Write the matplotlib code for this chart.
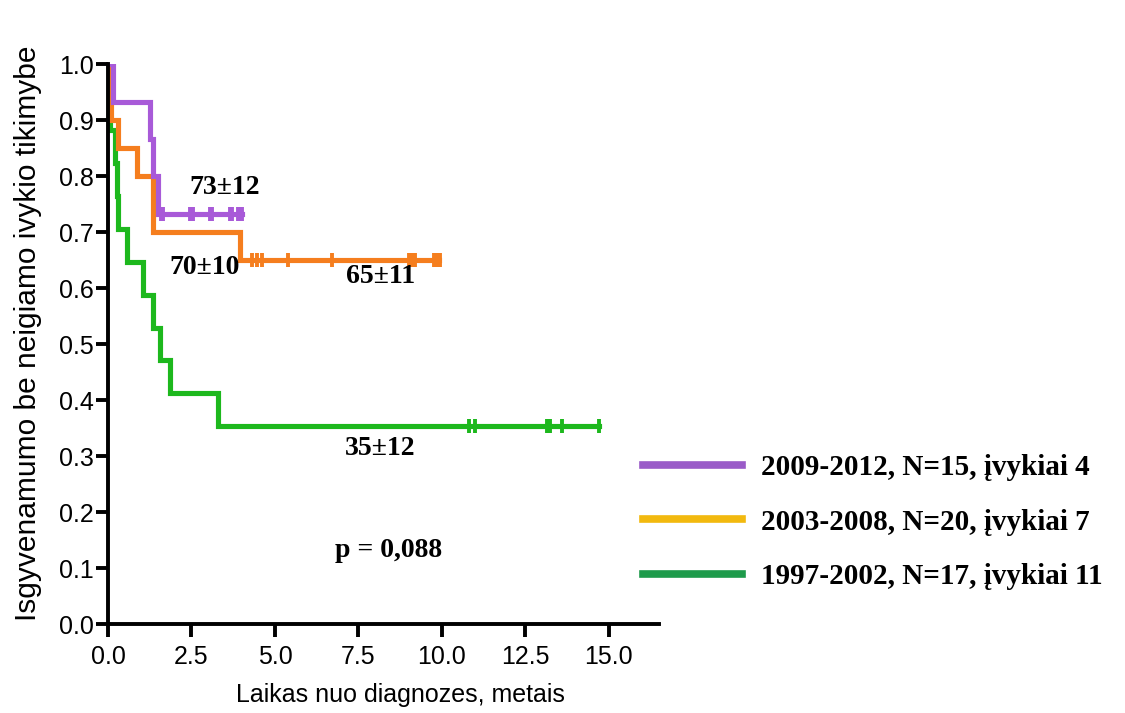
import numpy as np
import matplotlib
matplotlib.use("Agg")
import matplotlib.pyplot as plt
from matplotlib.lines import Line2D
from matplotlib.ticker import FormatStrFormatter

# Kaplan-Meier steps (time in years, survival)
t_0912 = [0, 0.15, 1.25, 1.35, 1.5, 4.0]
s_0912 = [1.0, 0.933, 0.867, 0.800, 0.733, 0.733]
c_0912 = [1.6, 1.65, 2.45, 2.55, 3.05, 3.1, 3.65, 3.7, 3.9, 3.95, 4.0]

t_0308 = [0, 0.02, 0.1, 0.3, 0.87, 1.35, 3.95, 9.9]
s_0308 = [1.0, 0.95, 0.90, 0.85, 0.80, 0.70, 0.65, 0.65]
c_0308 = [4.3, 4.45, 4.6, 5.4, 6.7, 9.0, 9.1, 9.2, 9.75, 9.8, 9.85, 9.9, 9.95]

t_9702 = [0, 0.02, 0.05, 0.2, 0.28, 0.3, 0.57, 1.05, 1.35, 1.55, 1.85, 3.3, 14.7]
s_9702 = [1.0, 0.941, 0.882, 0.824, 0.765, 0.706, 0.647, 0.588, 0.529, 0.471, 0.412, 0.353, 0.353]
c_9702 = [10.8, 11.0, 13.15, 13.25, 13.6, 14.7]

labels = ["2009-2012, N=15, įvykiai 4",
          "2003-2008, N=20, įvykiai 7",
          "1997-2002, N=17, įvykiai 11"]
line_colors = ["#A85AD8", "#F57E1E", "#1DB81D"]
legend_colors = ["#9A5BC8", "#F2B90F", "#1E9B4B"]

# estimates written on the chart: text, x, y
notes = [("73±12", 3.5, 0.78), ("70±10", 2.9, 0.636),
         ("65±11", 8.15, 0.62), ("35±12", 8.15, 0.314), ("p = 0,088", 8.4, 0.132)]

fig = plt.figure(figsize=(11.25, 7.13), dpi=100)
ax = fig.add_axes([0.096, 0.1248, 0.4898, 0.7854])

series = [(t_0912, s_0912, c_0912), (t_0308, s_0308, c_0308), (t_9702, s_9702, c_9702)]
for (t, s, c), col in zip(series[::-1], line_colors[::-1]):
    ax.step(t, s, where="post", color=col, lw=3.7, solid_joinstyle="miter")
    # censored cases sit on the last plateau
    ax.plot(c, [s[-1]] * len(c), ls="none", marker="|", ms=10, mew=2.8, color=col)

serif = "Liberation Serif"
for txt, x, y in notes:
    ax.text(x, y, txt, ha="center", va="center", fontsize=20,
            fontweight="bold", family=serif)

ax.set_xlim(0, 16.5)
ax.set_ylim(0, 1.0)
ax.set_xticks(np.arange(0, 15.1, 2.5))
ax.set_yticks(np.arange(0, 1.01, 0.1))
ax.xaxis.set_major_formatter(FormatStrFormatter("%.1f"))
ax.yaxis.set_major_formatter(FormatStrFormatter("%.1f"))
for sp in ["top", "right"]:
    ax.spines[sp].set_visible(False)
for sp in ["left", "bottom"]:
    ax.spines[sp].set_linewidth(2.8)
ax.tick_params(width=2.8, length=9, labelsize=18)
ax.tick_params(axis="x", pad=6)
ax.tick_params(axis="y", pad=1)
for lab in ax.get_xticklabels() + ax.get_yticklabels():
    lab.set_family("Liberation Sans")

ax.set_xlabel("Laikas nuo diagnozes, metais", fontsize=18, family="Liberation Sans")
ax.set_ylabel("Isgyvenamumo be neigiamo ivykio tikimybe", fontsize=21.5,
              family="Liberation Sans")
ax.xaxis.set_label_coords(0.53, -0.105)
ax.yaxis.set_label_coords(-0.12, 0.52)

handles = [Line2D([], [], color=c, lw=5.5) for c in legend_colors]
fig.legend(handles, labels, loc="upper left", bbox_to_anchor=(0.5716, 0.3633),
           frameon=False, borderpad=0, borderaxespad=0, handlelength=3.4,
           handletextpad=0.65, labelspacing=0.95,
           prop={"family": serif, "weight": "bold", "size": 21})

fig.savefig("out.png", dpi=100)
